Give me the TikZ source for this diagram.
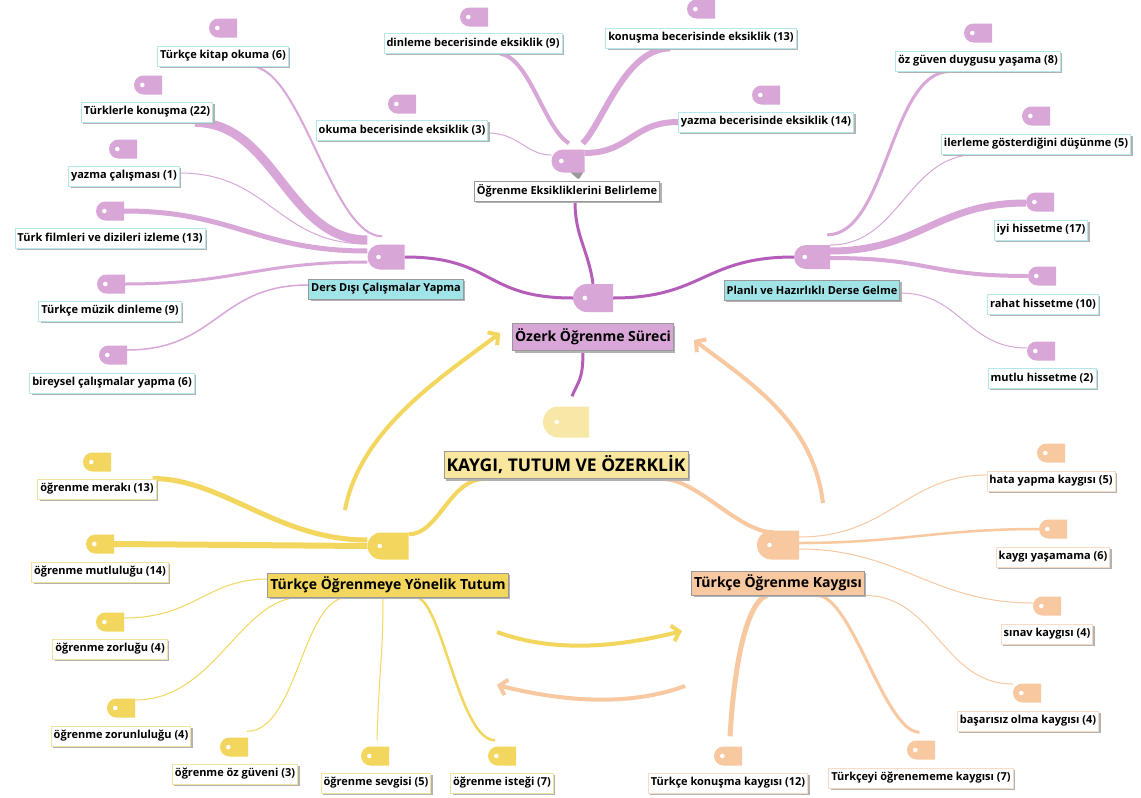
\documentclass[tikz,border=0pt]{standalone}
\usepackage{fontspec}
\setmainfont{Open Sans}
\usetikzlibrary{shapes.misc, shadows, calc, arrows.meta}
\pgfdeclarelayer{bg}
\pgfdeclarelayer{links}
\pgfsetlayers{bg,links,main}

\definecolor{lilac}{HTML}{D8A7D8}
\definecolor{plum}{HTML}{B45EB9}
\definecolor{aqua}{HTML}{A0E4E8}
\definecolor{aqualine}{HTML}{B5E6EC}
\definecolor{sun}{HTML}{F3D65D}
\definecolor{sunlight}{HTML}{F9E79F}
\definecolor{sunpale}{HTML}{F8E8A8}
\definecolor{sunline}{HTML}{F2E2A2}
\definecolor{peach}{HTML}{F8C8A0}
\definecolor{peachline}{HTML}{F7DBC4}

\tikzset{
    leaf/.style = {rectangle, fill=white, draw=#1, line width=0.9pt, inner xsep=2.5pt, inner ysep=1pt,
                   minimum height=20pt, font=\fontsize{11}{12}\selectfont\bfseries,
                   drop shadow={shadow xshift=2pt, shadow yshift=-2pt, fill=black!30, opacity=1}},
    pleaf/.style = {leaf=aqualine},
    yleaf/.style = {leaf=sunline},
    oleaf/.style = {leaf=peachline},
    branch/.style = {leaf=gray!80, fill=#1},
    topic/.style = {branch=#1, minimum height=25pt, font=\fontsize{14}{15}\selectfont\bfseries},
    knob/.style = {rounded rectangle, rounded rectangle right arc=none, inner sep=0pt,
                   minimum width=28pt, minimum height=19pt},
    link/.style = {line width=#1},
    barb/.style = {-{Straight Barb[length=7pt,width=16pt]}},
}
\newcommand{\knobat}[4][]{%
    \node (#2) [knob, fill=#4, #1] at (#3) {};
    \fill[white] ($(#2.west)!0.3!(#2.east)$) circle (2.3pt);
}

\begin{document}
\begin{tikzpicture}[x=1pt, y=-1pt]
\useasboundingbox (0,0) rectangle (1141,798);
\begin{pgfonlayer}{bg}
\fill[white] (0,0) rectangle (1141,798);
\end{pgfonlayer}

% Centre
\node (ozerk) [topic=lilac, minimum height=27pt] at (593,337) {Özerk Öğrenme Süreci};
\knobat[minimum width=40pt, minimum height=28pt]{ozerktab}{593,298}{lilac}
\node (kaygi) [topic=sunlight, minimum height=27pt, font=\fontsize{17.5}{18}\selectfont\bfseries] at (566,465) {KAYGI, TUTUM VE ÖZERKLİK};
\knobat[minimum width=46pt, minimum height=31pt]{kaygitab}{566,422}{sunpale}

% Ogrenme eksiklikleri
\node (oeb) [branch=white] at (567,191) {Öğrenme Eksikliklerini Belirleme};
\knobat[minimum width=33pt, minimum height=23pt]{oebtab}{568,161}{lilac}
\node (dinleme) [pleaf] at (473,43) {dinleme becerisinde eksiklik (9)};
\knobat{dinlemetab}{474,17}{lilac}
\node (konusmabec) [pleaf] at (701,38) {konuşma becerisinde eksiklik (13)};
\knobat{konusmabectab}{701,9}{lilac}
\node (okuma) [pleaf] at (402,130) {okuma becerisinde eksiklik (3)};
\knobat{okumatab}{402,104}{lilac}
\node (yazmabec) [pleaf] at (766,122) {yazma becerisinde eksiklik (14)};
\knobat{yazmabectab}{766,95}{lilac}

% Ders disi
\node (dd) [branch=aqua] at (386,289) {Ders Dışı Çalışmalar Yapma};
\knobat[minimum width=37pt, minimum height=25pt]{ddtab}{386,257}{lilac}
\node (kitap) [pleaf] at (223,56) {Türkçe kitap okuma (6)};
\knobat{kitaptab}{223,28}{lilac}
\node (turklerle) [pleaf] at (147,112) {Türklerle konuşma (22)};
\knobat{turklerletab}{148,85}{lilac}
\node (yazmacal) [pleaf] at (124,176) {yazma çalışması (1)};
\knobat{yazmacaltab}{123,149}{lilac}
\node (film) [pleaf] at (110,238) {Türk filmleri ve dizileri izleme (13)};
\knobat{filmtab}{110,211}{lilac}
\node (muzik) [pleaf] at (110,311) {Türkçe müzik dinleme (9)};
\knobat{muziktab}{111,284}{lilac}
\node (bireysel) [pleaf] at (112,383) {bireysel çalışmalar yapma (6)};
\knobat{bireyseltab}{113,355}{lilac}

% Planli
\node (planli) [branch=aqua] at (812,290) {Planlı ve Hazırlıklı Derse Gelme};
\knobat[minimum width=36pt, minimum height=24pt]{pltab}{812,257}{lilac}
\node (ozguvenduygu) [pleaf] at (978,61) {öz güven duygusu yaşama (8)};
\knobat{ozguvenduygutab}{978,33}{lilac}
\node (ilerleme) [pleaf] at (1036,144) {ilerleme gösterdiğini düşünme (5)};
\knobat{ilerlemetab}{1036,116}{lilac}
\node (iyi) [pleaf] at (1041,230) {iyi hissetme (17)};
\knobat{iyitab}{1040,202}{lilac}
\node (rahat) [pleaf] at (1043,304) {rahat hissetme (10)};
\knobat{rahattab}{1042,276}{lilac}
\node (mutlu) [pleaf] at (1042,378) {mutlu hissetme (2)};
\knobat{mutlutab}{1041,351}{lilac}

% Tutum
\node (tutum) [topic=sun, minimum height=24pt] at (388,585) {Türkçe Öğrenmeye Yönelik Tutum};
\knobat[minimum width=41pt, minimum height=27pt]{tutumtab}{388,546}{sun}
\node (merak) [yleaf] at (97,489) {öğrenme merakı (13)};
\knobat{meraktab}{97,462}{sun}
\node (mutluluk) [yleaf] at (100,572) {öğrenme mutluluğu (14)};
\knobat{mutluluktab}{100,544}{sun}
\node (zorluk) [yleaf] at (110,649) {öğrenme zorluğu (4)};
\knobat{zorluktab}{110,622}{sun}
\node (zorunluluk) [yleaf] at (121,736) {öğrenme zorunluluğu (4)};
\knobat{zorunluluktab}{121,708}{sun}
\node (ozguven) [yleaf] at (235,774) {öğrenme öz güveni (3)};
\knobat{ozguventab}{234,747}{sun}
\node (sevgi) [yleaf] at (376,783) {öğrenme sevgisi (5)};
\knobat{sevgitab}{375,756}{sun}
\node (istek) [yleaf] at (502,783) {öğrenme isteği (7)};
\knobat{istektab}{502,756}{sun}

% Kaygi
\node (kaygibox) [topic=peach, minimum height=24pt] at (778,583) {Türkçe Öğrenme Kaygısı};
\knobat[minimum width=42pt, minimum height=29pt]{ktab}{778,545}{peach}
\node (hata) [oleaf] at (1051,481) {hata yapma kaygısı (5)};
\knobat{hatatab}{1051,453}{peach}
\node (yasamama) [oleaf] at (1053,557) {kaygı yaşamama (6)};
\knobat{yasamamatab}{1053,529}{peach}
\node (sinav) [oleaf] at (1047,634) {sınav kaygısı (4)};
\knobat{sinavtab}{1047,606}{peach}
\node (basarisiz) [oleaf] at (1028,721) {başarısız olma kaygısı (4)};
\knobat{basarisiztab}{1027,693}{peach}
\node (ogrenememe) [oleaf] at (921,778) {Türkçeyi öğrenememe kaygısı (7)};
\knobat{ogrenememetab}{921,750}{peach}
\node (kkonusma) [oleaf] at (728,783) {Türkçe konuşma kaygısı (12)};
\knobat{kkonusmatab}{728,756}{peach}

% Links
\begin{pgfonlayer}{links}
\draw[plum, link=3pt] (ddtab.east) .. controls +(90,0) and +(-90,0) .. (ozerktab.west);
\draw[plum, link=3pt] (ozerktab.east) .. controls +(90,0) and +(-90,0) .. (pltab.west);
\draw[plum, link=3pt] ($(oeb.south)+(8,0)$) .. controls +(0,35) and +(-5,-35) .. (ozerktab.north);
\draw[plum, link=3pt] ($(ozerk.south)+(-10,0)$) .. controls +(0,30) and +(6,-15) .. ($(kaygitab.north)+(6,-10)$);
\draw[sun, link=4pt] ($(kaygi.south west)+(41,0)$) .. controls +(-35,0) and +(30,0) .. ($(tutumtab.north east)+(0,2)$);
\draw[peach, link=4pt] ($(kaygi.south east)+(-26,0)$) .. controls +(35,0) and +(-35,0) .. ($(ktab.north west)+(2,2)$);
\fill[black!40, rounded corners=2pt] ($(oebtab.south east)+(-15,-1)$) -- ($(oebtab.south east)+(-1,-1)$) -- ($(oebtab.south east)+(-6,7)$) -- cycle;

\draw[lilac, link=4pt] ($(dinleme.south)+(27,0)$) .. controls +(30,5) and +(-25,-15) .. ($(oebtab.north west)+(6,-6)$);
\draw[lilac, link=6pt] ($(konusmabec.south)+(-31,0)$) .. controls +(-45,0) and +(20,-20) .. ($(oebtab.north east)+(-2,-6)$);
\draw[lilac, link=1pt] ($(okuma.east)+(0,3)$) .. controls +(30,0) and +(-25,0) .. ($(oebtab.west)+(0,-6)$);
\draw[lilac, link=6pt] (yazmabec.west) .. controls +(-45,0) and +(45,0) .. ($(oebtab.east)+(0,-8)$);

\draw[lilac, link=2pt] ($(kitap.south east)+(-38,0)$) .. controls +(50,0) and +(-50,0) .. ($(ddtab.north west)+(2,-8)$);
\draw[lilac, link=9pt] ($(turklerle.south east)+(-18,0)$) .. controls +(80,0) and +(-80,0) .. ($(ddtab.west)+(0,-17)$);
\draw[lilac, link=1pt] ($(yazmacal.east)+(0,-3)$) .. controls +(90,0) and +(-90,0) .. ($(ddtab.west)+(0,-13)$);
\draw[lilac, link=5pt] (filmtab.east) .. controls +(110,0) and +(-110,0) .. ($(ddtab.west)+(0,-6)$);
\draw[lilac, link=3pt] (muziktab.east) .. controls +(110,0) and +(-110,0) .. ($(ddtab.west)+(0,5)$);
\draw[lilac, link=1.5pt] ($(bireyseltab.east)+(0,-5)$) .. controls +(90,0) and +(-90,0) .. ($(dd.west)+(0,-4)$);

\draw[lilac, link=3pt] ($(ozguvenduygu.south)+(-28,0)$) .. controls +(-60,0) and +(60,0) .. ($(pltab.north east)+(-3,-10)$);
\draw[lilac, link=1pt] ($(ilerleme.south)+(-59,0)$) .. controls +(-70,0) and +(70,0) .. ($(pltab.east)+(0,-12)$);
\draw[lilac, link=7pt] ($(pltab.east)+(0,-6)$) .. controls +(90,0) and +(-90,0) .. ($(iyitab.west)+(0,1)$);
\draw[lilac, link=4pt] ($(pltab.east)+(0,1)$) .. controls +(100,0) and +(-100,0) .. (rahattab.west);
\draw[lilac, link=1pt] ($(planli.east)+(0,3)$) .. controls +(60,0) and +(-60,0) .. ($(mutlutab.west)+(0,-3)$);

\draw[sun, link=5pt] ($(merak.north east)+(-4,0)$) .. controls +(70,0) and +(-90,0) .. ($(tutumtab.west)+(0,-6)$);
\draw[sun, link=6pt] (mutluluktab.east) -- (tutumtab.west);
\draw[sun, link=1pt] ($(zorluktab.east)+(0,-4)$) .. controls +(70,0) and +(-60,0) .. ($(tutum.west)+(0,-6)$);
\draw[sun, link=1pt] ($(zorunluluktab.east)+(0,-8)$) .. controls +(80,0) and +(-60,0) .. ($(tutum.south west)+(33,0)$);
\draw[sun, link=1pt] ($(ozguventab.north east)+(-1,-6)$) .. controls +(50,0) and +(-45,0) .. ($(tutum.south west)+(80,0)$);
\draw[sun, link=1pt] ($(sevgitab.north)+(2,-6)$) .. controls +(2,-70) and +(0,60) .. ($(tutum.south)+(-5,0)$);
\draw[sun, link=2.5pt] ($(tutum.south)+(30,0)$) .. controls +(25,10) and +(-35,0) .. ($(istektab.north)+(-7,-6)$);

\draw[peach, link=1pt] ($(ktab.east)+(0,-8)$) .. controls +(90,0) and +(-80,0) .. ($(hata.west)+(0,-6)$);
\draw[peach, link=2.5pt] ($(ktab.east)+(0,-2)$) .. controls +(100,0) and +(-100,0) .. (yasamamatab.west);
\draw[peach, link=1pt] ($(ktab.east)+(0,4)$) .. controls +(100,0) and +(-100,0) .. ($(sinavtab.west)+(0,-3)$);
\draw[peach, link=1pt] (kaygibox.south east) .. controls +(70,0) and +(-70,0) .. ($(basarisiztab.west)+(0,-9)$);
\draw[peach, link=3pt] ($(kaygibox.south)+(39,0)$) .. controls +(35,0) and +(-35,0) .. ($(ogrenememetab.north west)+(3,-8)$);
\draw[peach, link=5pt] ($(kaygibox.south)+(-11,0)$) .. controls +(-14,4) and +(6,-100) .. ($(kkonusmatab.north)+(2,-10)$);
\end{pgfonlayer}

% Arrows
\coordinate (ystart) at (345,510);
\coordinate (ostart) at (823,503);
\coordinate (ymid1) at (497,632);
\coordinate (ymid2) at (682,631);
\coordinate (omid1) at (685,686);
\coordinate (omid2) at (497,685);
\draw[sun, link=4pt, barb] (ystart) .. controls +(15,-80) and +(-60,45) .. ($(ozerk.west)+(-12,-4)$);
\draw[peach, link=4pt, barb] (ostart) .. controls +(-10,-80) and +(60,45) .. ($(ozerk.east)+(20,3)$);
\draw[sun, link=4pt, barb] (ymid1) .. controls +(60,22) and +(-60,15) .. (ymid2);
\draw[peach, link=4pt, barb] (omid1) .. controls +(-60,22) and +(60,15) .. (omid2);
\end{tikzpicture}
\end{document}
